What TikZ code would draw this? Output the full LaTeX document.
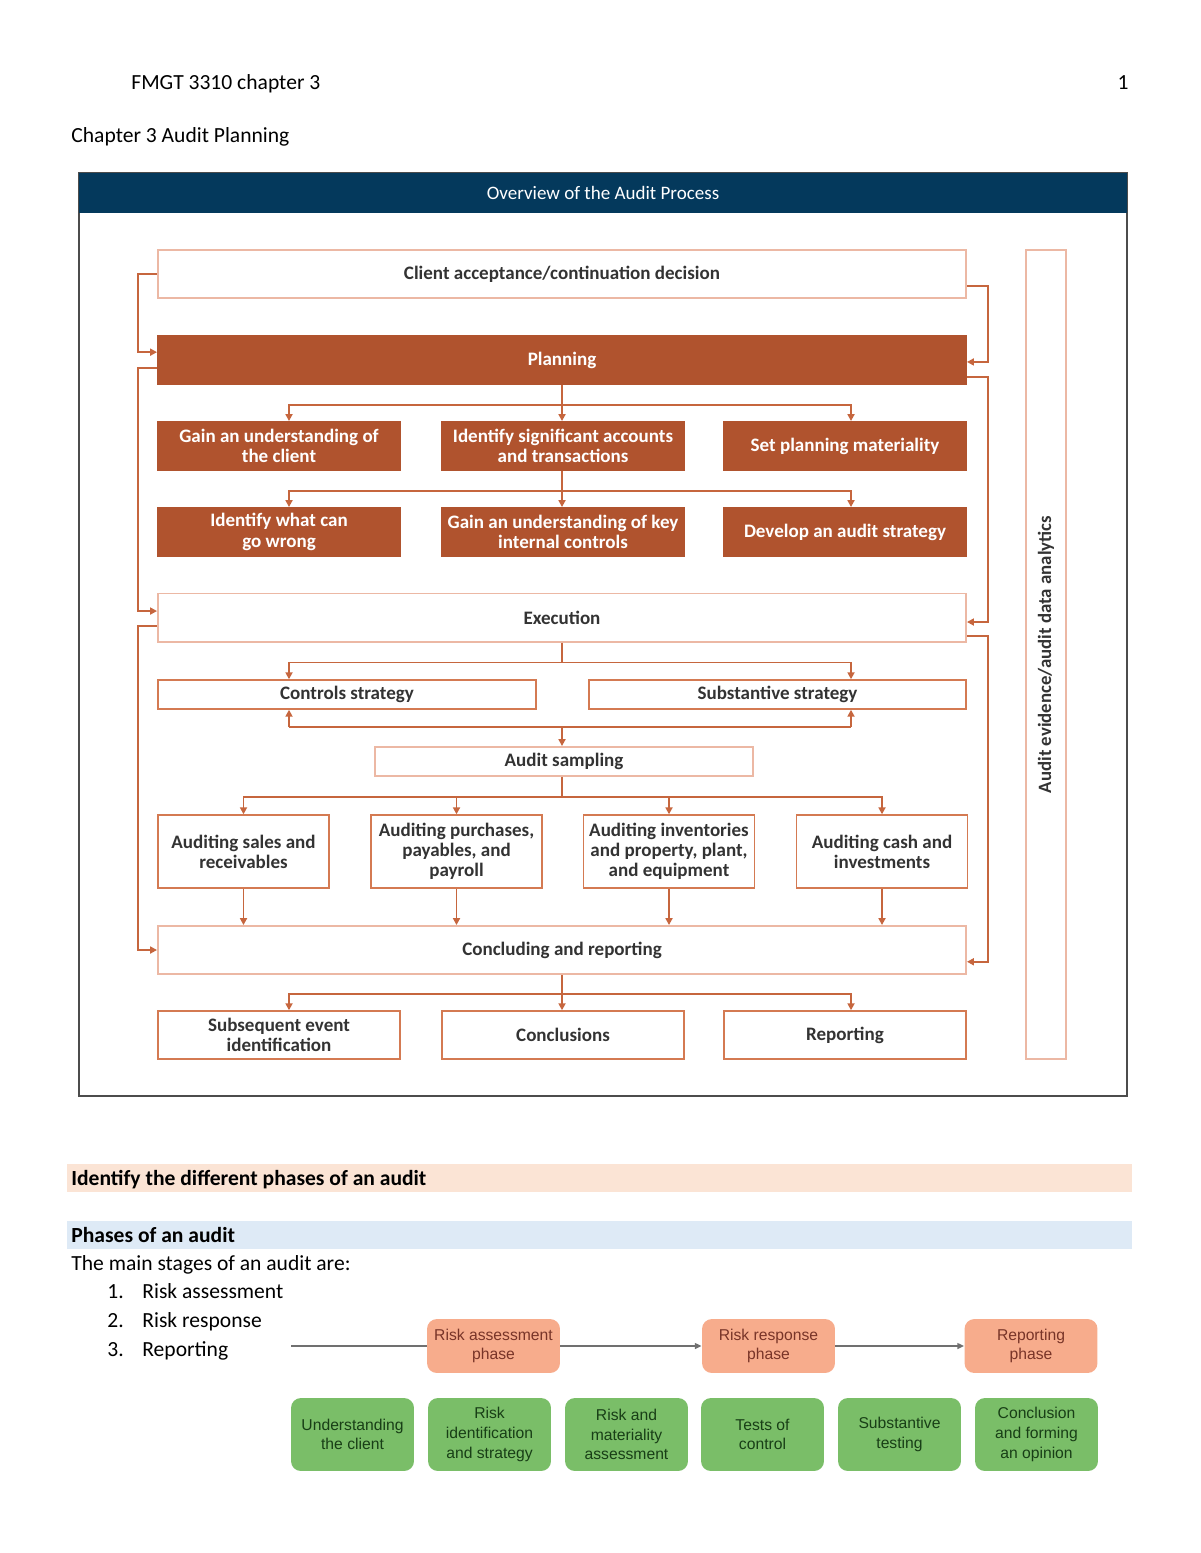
\documentclass[tikz,border=0pt]{standalone}
\usepackage{fontspec}
\setmainfont{Carlito}
\newfontfamily\arialfont{Liberation Sans}
\usetikzlibrary{arrows.meta,positioning}
\definecolor{navy}{RGB}{4,57,92}
\definecolor{rust}{RGB}{176,83,46}
\definecolor{paleline}{RGB}{236,184,164}
\definecolor{midline}{RGB}{212,122,82}
\definecolor{wire}{RGB}{198,102,62}
\definecolor{ink}{RGB}{51,51,51}
\definecolor{peachbar}{RGB}{251,228,213}
\definecolor{bluebar}{RGB}{222,234,246}
\definecolor{phasefill}{RGB}{247,172,140}
\definecolor{phasetext}{RGB}{120,52,40}
\definecolor{stepfill}{RGB}{122,190,104}
\definecolor{steptext}{RGB}{24,62,22}
\definecolor{tlgray}{RGB}{112,112,112}
\tikzset{
  palebox/.style={draw=paleline,line width=1pt,fill=white,text=ink,align=center,inner sep=0pt,
    font=\bfseries\fontsize{9.7}{10.3}\selectfont},
  midbox/.style={palebox,draw=midline,line width=0.8pt},
  rustbox/.style={palebox,draw=rust,fill=rust,text=white},
  link/.style={draw=wire,line width=0.75pt,-{Triangle[length=3.5pt,width=3.6pt]}},
  plain/.style={draw=wire,line width=0.75pt},
  pagetext/.style={inner sep=0pt,font=\fontsize{11}{13}\selectfont},
  phasebox/.style={rounded corners=5pt,fill=phasefill,text=phasetext,align=center,inner sep=0pt,
    minimum width=67.8pt,minimum height=27.5pt,font=\arialfont\fontsize{8}{10}\selectfont},
  stepbox/.style={rounded corners=5pt,fill=stepfill,text=steptext,align=center,inner sep=0pt,
    minimum width=62.7pt,minimum height=37.2pt,font=\arialfont\fontsize{8}{10}\selectfont},
  tline/.style={draw=tlgray,line width=1pt},
  tarrow/.style={tline,-{Triangle[length=3.5pt,width=3pt]}}
}
\begin{document}
\begin{tikzpicture}[x=0.51pt,y=0.51pt,yscale=-1,xscale=1]
\useasboundingbox (0,0) rectangle (1200,1553);

%Page heading
\node[pagetext,anchor=base west] (runhead) at (131,90) {FMGT 3310 chapter 3};
\node[pagetext,anchor=base east] (pageno) at (1129,90) {1};
\node[pagetext,anchor=base west] (chaphead) at (71,143) {Chapter 3 Audit Planning};

%Shape: Rectangle [frame]
\draw[color=black!70,line width=0.8pt] (79,173) rectangle (1127,1096);
\node[fill=navy,minimum width=534.5pt,minimum height=20.4pt,inner sep=0pt,text=white,
  font=\fontsize{9.7}{11}\selectfont] (header) at (603,193) {Overview of the Audit Process};

%Coordinates for the branch columns
\coordinate (lcol) at (289,0);
\coordinate (mcol) at (562,0);
\coordinate (rcol) at (851,0);

%Main stages
\node[palebox,minimum width=412.1pt,minimum height=24.5pt] (client) at (562,274) {Client acceptance/continuation decision};
\node[rustbox,minimum width=412.1pt,minimum height=24.5pt] (planning) at (562,360) {Planning};
\node[palebox,minimum width=412.1pt,minimum height=24.5pt] (execution) at (562,617.5) {Execution};
\node[palebox,minimum width=412.1pt,minimum height=24.5pt] (concluding) at (562,950) {Concluding and reporting};

%Planning steps
\node[rustbox,minimum width=123.4pt,minimum height=24.5pt] (gainclient) at (279,446) {Gain an understanding of\\the client};
\node[rustbox,minimum width=123.4pt,minimum height=24.5pt] (identacc) at (563,446) {Identify significant accounts\\and transactions};
\node[rustbox,minimum width=123.4pt,minimum height=24.5pt] (setmat) at (845,446) {Set planning materiality};
\node[rustbox,minimum width=123.4pt,minimum height=24.5pt] (whatwrong) at (279,532) {Identify what can\\go wrong};
\node[rustbox,minimum width=123.4pt,minimum height=24.5pt] (keyctrl) at (563,532) {Gain an understanding of key\\internal controls};
\node[rustbox,minimum width=123.4pt,minimum height=24.5pt] (auditstrat) at (845,532) {Develop an audit strategy};

%Execution steps
\node[midbox,minimum width=192.8pt,minimum height=14.8pt] (controls) at (347,694.5) {Controls strategy};
\node[midbox,minimum width=192.3pt,minimum height=14.8pt] (substantive) at (777.5,694.5) {Substantive strategy};
\node[palebox,minimum width=192.8pt,minimum height=14.8pt] (sampling) at (564,761.5) {Audit sampling};
\node[midbox,minimum width=87.2pt,minimum height=37.2pt] (sales) at (243.5,851.5) {Auditing sales and\\receivables};
\node[midbox,minimum width=87.2pt,minimum height=37.2pt] (purchases) at (456.5,851.5) {Auditing purchases,\\payables, and\\payroll};
\node[midbox,minimum width=87.2pt,minimum height=37.2pt] (inventories) at (669,851.5) {Auditing inventories\\and property, plant,\\and equipment};
\node[midbox,minimum width=87.2pt,minimum height=37.2pt] (cash) at (882,851.5) {Auditing cash and\\investments};

%Reporting steps
\node[midbox,minimum width=123.4pt,minimum height=24.5pt] (subsequent) at (279,1035) {Subsequent event\\identification};
\node[midbox,minimum width=123.4pt,minimum height=24.5pt] (conclusions) at (563,1035) {Conclusions};
\node[midbox,minimum width=123.4pt,minimum height=24.5pt] (reporting) at (845,1035) {Reporting};

%Side bar
\node[palebox,rotate=90,minimum width=412.6pt,minimum height=20.4pt,font=\bfseries\fontsize{9.6}{10}\selectfont] (evidence) at (1046,654.5) {Audit evidence/audit data analytics};

%Straight Lines [left loops]
\draw[link] (client.west) -- ++(-19,0) |- ([yshift=-4pt]planning.west);
\draw[link] ([yshift=4pt]planning.west) -- ++(-19,0) |- ([yshift=-3.3pt]execution.west);
\draw[link] ([yshift=4.3pt]execution.west) -- ++(-19,0) |- (concluding.west);
%Straight Lines [right loops]
\draw[link] ([yshift=6pt]client.east) -- ++(21,0) |- ([yshift=1pt]planning.east);
\draw[link] ([yshift=8.7pt]planning.east) -- ++(21,0) |- ([yshift=2.3pt]execution.east);
\draw[link] ([yshift=9.4pt]execution.east) -- ++(21,0) |- ([yshift=6pt]concluding.east);

%Straight Lines [planning branches]
\draw[link] (planning.south) -- (identacc.north -| planning.south);
\draw[link] (planning.south) ++(0,20) -| (gainclient.north -| lcol);
\draw[link] (planning.south) ++(0,20) -| (setmat.north -| rcol);
\draw[link] (identacc.south -| mcol) -- (keyctrl.north -| mcol);
\draw[link] (identacc.south -| mcol) ++(0,20) -| (whatwrong.north -| lcol);
\draw[link] (identacc.south -| mcol) ++(0,20) -| (auditstrat.north -| rcol);

%Straight Lines [execution branches]
\draw[plain] (execution.south) -- ++(0,20);
\draw[link] (execution.south) ++(0,20) -| (controls.north -| lcol);
\draw[link] (execution.south) ++(0,20) -| (substantive.north -| rcol);
\coordinate (sjoin) at (562,727);
\draw[plain] (sjoin -| lcol) -- (sjoin -| rcol);
\draw[link] (sjoin -| lcol) -- (controls.south -| lcol);
\draw[link] (sjoin -| rcol) -- (substantive.south -| rcol);
\draw[link] (sjoin) -- (sampling.north -| sjoin);

%Straight Lines [sampling branches]
\draw[plain] (sampling.south -| mcol) -- ++(0,20);
\draw[link] (sampling.south -| mcol) ++(0,20) -| (sales.north);
\draw[link] (sampling.south -| mcol) ++(0,20) -| (purchases.north);
\draw[link] (sampling.south -| mcol) ++(0,20) -| (inventories.north);
\draw[link] (sampling.south -| mcol) ++(0,20) -| (cash.north);
\draw[link] (sales.south) -- (sales.south |- concluding.north);
\draw[link] (purchases.south) -- (purchases.south |- concluding.north);
\draw[link] (inventories.south) -- (inventories.south |- concluding.north);
\draw[link] (cash.south) -- (cash.south |- concluding.north);

%Straight Lines [reporting branches]
\draw[link] (concluding.south) -- (conclusions.north -| concluding.south);
\draw[link] (concluding.south) ++(0,19) -| (subsequent.north -| lcol);
\draw[link] (concluding.south) ++(0,19) -| (reporting.north -| rcol);

%Section bars
\fill[peachbar] (67,1164) rectangle (1132,1192);
\node[pagetext,anchor=base west,font=\bfseries\fontsize{11}{13}\selectfont] (objective) at (71,1185) {Identify the different phases of an audit};
\fill[bluebar] (67,1221) rectangle (1132,1249);
\node[pagetext,anchor=base west,font=\bfseries\fontsize{11}{13}\selectfont] (phasehead) at (71,1242) {Phases of an audit};
\node[pagetext,anchor=base west] (intro) at (71,1270) {The main stages of an audit are:};
\node[pagetext,anchor=base west] (numone) at (107,1298) {1.};
\node[pagetext,anchor=base west] (itemone) at (142,1298) {Risk assessment};
\node[pagetext,anchor=base west] (numtwo) at (107,1327) {2.};
\node[pagetext,anchor=base west] (itemtwo) at (142,1327) {Risk response};
\node[pagetext,anchor=base west] (numthree) at (107,1356) {3.};
\node[pagetext,anchor=base west] (itemthree) at (142,1356) {Reporting};

%Phase timeline
\node[phasebox] (assessph) at (493.5,1346) {Risk assessment\\phase};
\node[phasebox] (responseph) at (768.5,1346) {Risk response\\phase};
\node[phasebox] (reportph) at (1031,1346) {Reporting\\phase};
\coordinate (tlstart) at (291,1346);
\draw[tline] (tlstart) -- (assessph.west);
\draw[tarrow] (assessph.east) -- (responseph.west);
\draw[tarrow] (responseph.east) -- (reportph.west);

\node[stepbox] (understand) at (352.5,1434.5) {Understanding\\the client};
\node[stepbox] (riskid) at (489.5,1434.5) {Risk\\identification\\and strategy};
\node[stepbox] (riskmat) at (626.5,1434.5) {Risk and\\materiality\\assessment};
\node[stepbox] (testctrl) at (762.5,1434.5) {Tests of\\control};
\node[stepbox] (subtest) at (899.5,1434.5) {Substantive\\testing};
\node[stepbox] (opinion) at (1036.5,1434.5) {Conclusion\\and forming\\an opinion};

\end{tikzpicture}
\end{document}
